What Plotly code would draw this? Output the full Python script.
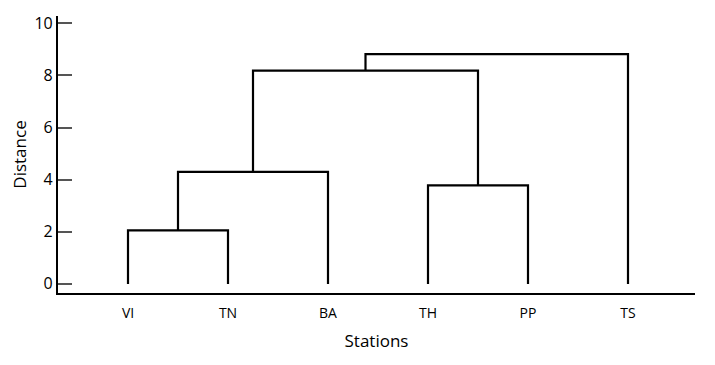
import plotly.graph_objects as go

# Data
stations = ["VI", "TN", "BA", "TH", "PP", "TS"]
# linkage rows: (cluster a, cluster b, merge distance); new clusters numbered from len(stations)
link_a = [0, 6, 3, 7, 9]
link_b = [1, 2, 4, 8, 5]
link_dist = [2.05, 4.30, 3.78, 8.18, 8.82]
ytick_vals = [0, 2, 4, 6, 8, 10]

# Build dendrogram segments
pos = {i: (float(i), 0.0) for i in range(len(stations))}
xs, ys = [], []
for k, (a, b, d) in enumerate(zip(link_a, link_b, link_dist)):
    xa, ya = pos[a]
    xb, yb = pos[b]
    xs += [xa, xa, xb, xb, None]
    ys += [ya, d, d, yb, None]
    pos[len(stations) + k] = ((xa + xb) / 2.0, d)

fig = go.Figure()
fig.add_trace(go.Scatter(x=xs, y=ys, mode="lines",
                         line=dict(color="black", width=2.2),
                         hoverinfo="skip", showlegend=False))

font_family = "Open Sans"
fig.update_layout(
    width=715, height=365,
    margin=dict(l=58, r=20, t=16, b=72),
    paper_bgcolor="white", plot_bgcolor="white",
    font=dict(family=font_family, color="black"),
    xaxis=dict(
        range=[-0.7, 5.67],
        tickvals=list(range(len(stations))), ticktext=stations,
        showgrid=False, zeroline=False,
        showline=True, linecolor="black", linewidth=2.2,
        ticks="outside", ticklen=6, tickcolor="rgba(0,0,0,0)",
        tickfont=dict(size=14),
        title=dict(text="Stations", font=dict(size=17), standoff=14),
    ),
    yaxis=dict(
        range=[-0.35, 10.28],
        tickvals=ytick_vals,
        showgrid=False, zeroline=False,
        showline=True, linecolor="black", linewidth=2.2,
        ticks="inside", ticklen=14, tickwidth=2, tickcolor="#555555",
        tickfont=dict(size=16),
        title=dict(text="Distance", font=dict(size=17), standoff=3),
    ),
)

fig.write_html("out.html")
